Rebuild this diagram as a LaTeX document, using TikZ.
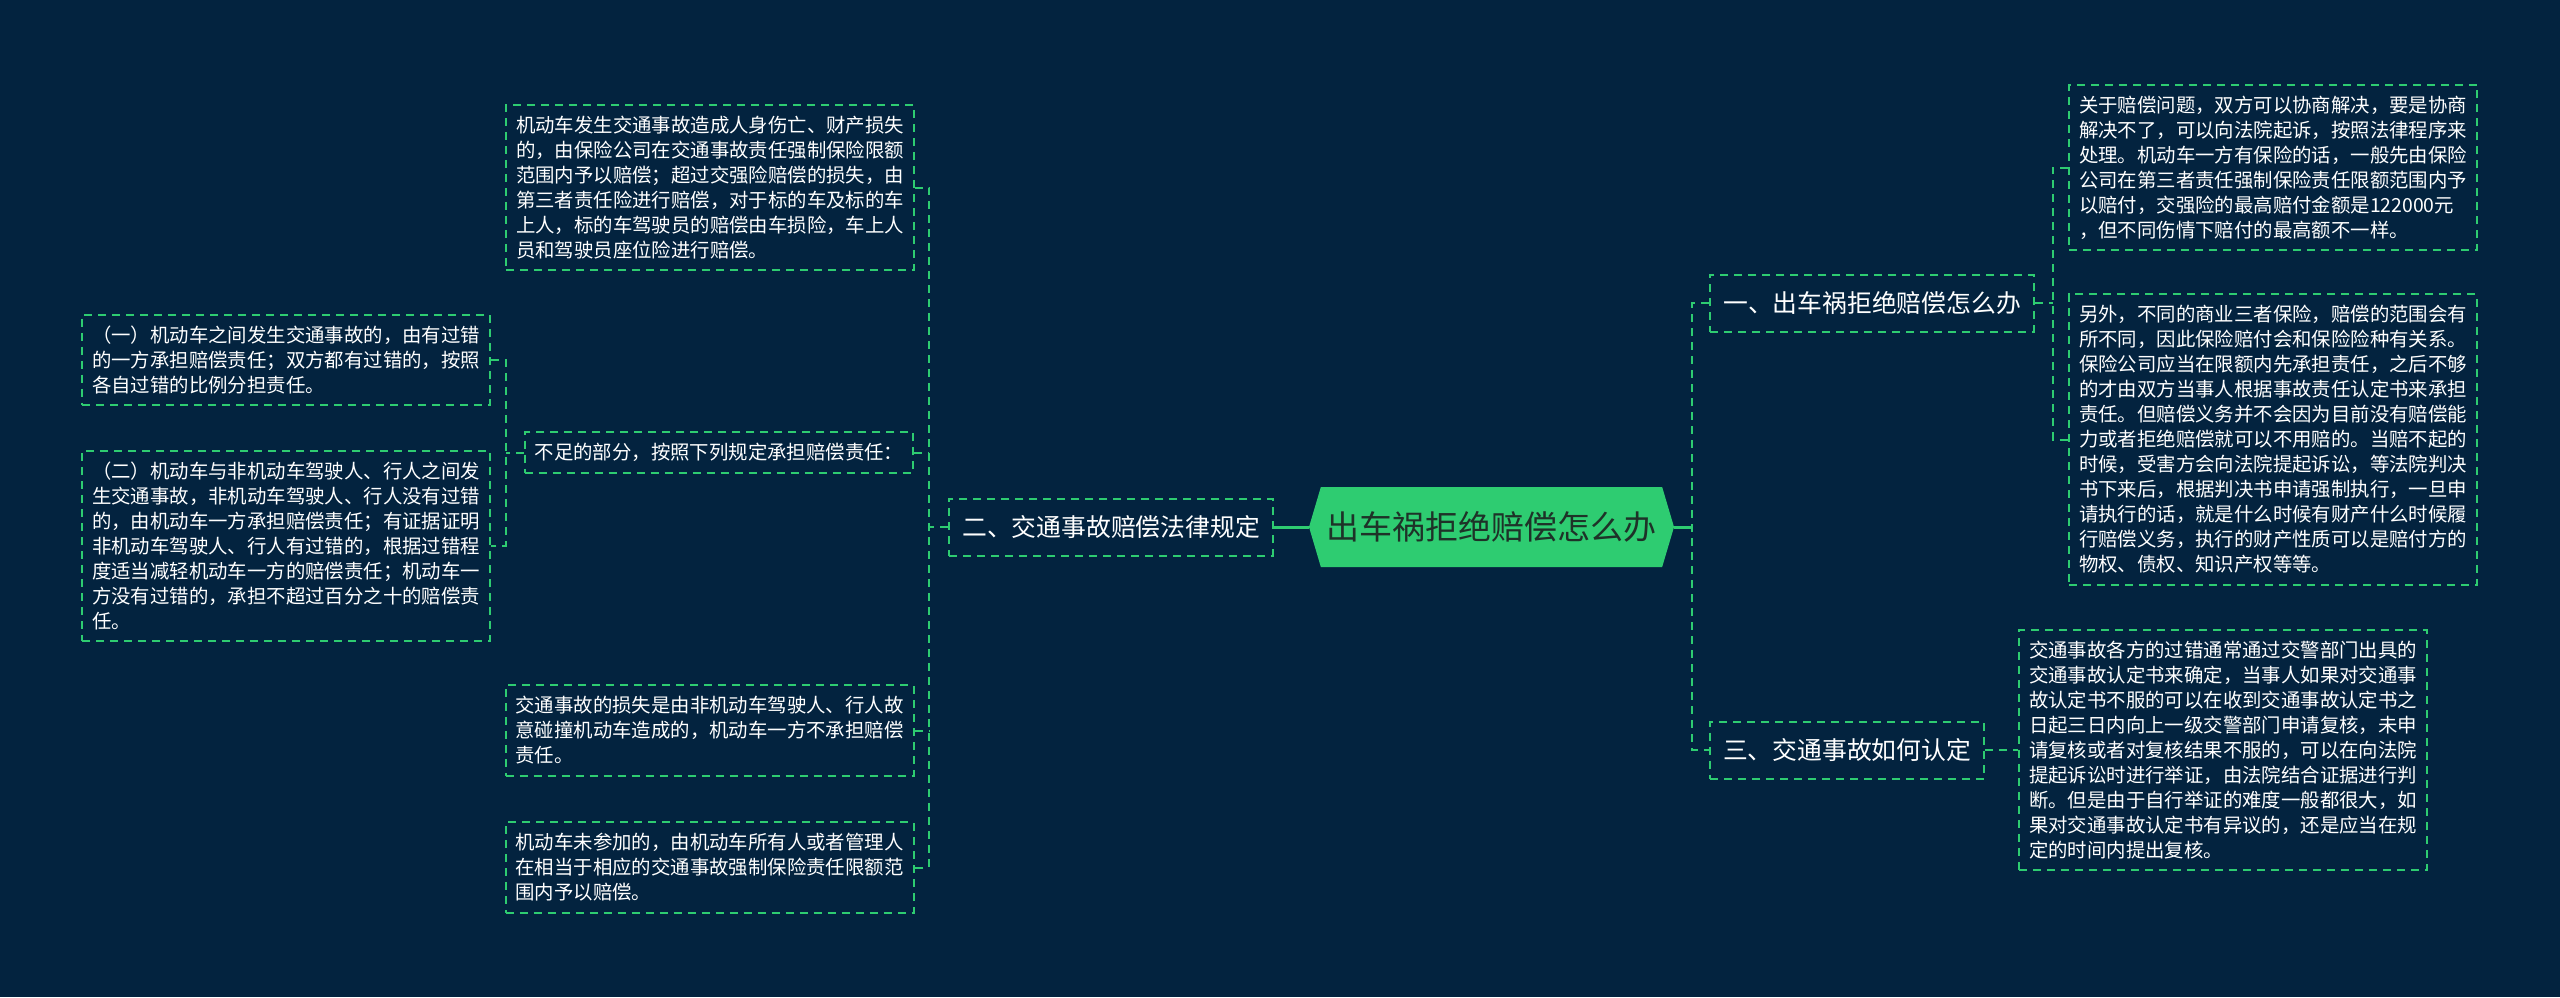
\documentclass[tikz,border=0pt]{standalone}
\usepackage{fontspec}
\setmainfont{Noto Sans CJK SC}
\usetikzlibrary{shapes.symbols}
\definecolor{bgnavy}{RGB}{3,35,63}
\definecolor{mapgreen}{RGB}{46,204,113}
\definecolor{roottext}{RGB}{30,50,40}

\begin{document}
\begin{tikzpicture}[x=1pt,y=-1pt,
  leaf/.style={draw=mapgreen, dash pattern=on 8pt off 6pt, line width=2pt, text=white, align=left, inner xsep=10pt, inner ysep=11pt, font=\fontsize{19.4pt}{25pt}\selectfont},
  branch/.style={draw=mapgreen, dash pattern=on 8pt off 6pt, line width=2pt, text=white, inner xsep=13pt, minimum height=57pt, font=\fontsize{24.8pt}{28pt}\selectfont},
  link/.style={mapgreen, dash pattern=on 8pt off 6pt, line width=2pt},
  stem/.style={mapgreen, line width=3pt}]
\fill[bgnavy] (0,0) rectangle (2560,997); % background
\useasboundingbox (0,0) rectangle (2560,997);

\node (root) [shape=signal, signal to=east and west, signal pointer angle=147, fill=mapgreen, minimum width=365pt, minimum height=80pt, inner xsep=0pt, text=roottext, font=\fontsize{33pt}{36pt}\selectfont] at (1491.5,527) {出车祸拒绝赔偿怎么办}; % root

\node (b1) [branch] at (1872,303) {一、出车祸拒绝赔偿怎么办};
\node (b2) [branch] at (1111,527) {二、交通事故赔偿法律规定};
\node (b3) [branch] at (1847,750) {三、交通事故如何认定};

% right side
\node (r1a) [leaf] at (2273,167.5) {关于赔偿问题，双方可以协商解决，要是协商\\解决不了，可以向法院起诉，按照法律程序来\\处理。机动车一方有保险的话，一般先由保险\\公司在第三者责任强制保险责任限额范围内予\\以赔付，交强险的最高赔付金额是122000元\\，但不同伤情下赔付的最高额不一样。};
\node (r1b) [leaf] at (2273,439.5) {另外，不同的商业三者保险，赔偿的范围会有\\所不同，因此保险赔付会和保险险种有关系。\\保险公司应当在限额内先承担责任，之后不够\\的才由双方当事人根据事故责任认定书来承担\\责任。但赔偿义务并不会因为目前没有赔偿能\\力或者拒绝赔偿就可以不用赔的。当赔不起的\\时候，受害方会向法院提起诉讼，等法院判决\\书下来后，根据判决书申请强制执行，一旦申\\请执行的话，就是什么时候有财产什么时候履\\行赔偿义务，执行的财产性质可以是赔付方的\\物权、债权、知识产权等等。};
\node (r3) [leaf] at (2223,750) {交通事故各方的过错通常通过交警部门出具的\\交通事故认定书来确定，当事人如果对交通事\\故认定书不服的可以在收到交通事故认定书之\\日起三日内向上一级交警部门申请复核，未申\\请复核或者对复核结果不服的，可以在向法院\\提起诉讼时进行举证，由法院结合证据进行判\\断。但是由于自行举证的难度一般都很大，如\\果对交通事故认定书有异议的，还是应当在规\\定的时间内提出复核。};

% left side
\node (l1) [leaf] at (710,187.5) {机动车发生交通事故造成人身伤亡、财产损失\\的，由保险公司在交通事故责任强制保险限额\\范围内予以赔偿；超过交强险赔偿的损失，由\\第三者责任险进行赔偿，对于标的车及标的车\\上人，标的车驾驶员的赔偿由车损险，车上人\\员和驾驶员座位险进行赔偿。};
\node (lgap) [leaf] at (719,452.5) {不足的部分，按照下列规定承担赔偿责任：};
\node (la) [leaf] at (286,360) {（一）机动车之间发生交通事故的，由有过错\\的一方承担赔偿责任；双方都有过错的，按照\\各自过错的比例分担责任。};
\node (lb) [leaf] at (286,546) {（二）机动车与非机动车驾驶人、行人之间发\\生交通事故，非机动车驾驶人、行人没有过错\\的，由机动车一方承担赔偿责任；有证据证明\\非机动车驾驶人、行人有过错的，根据过错程\\度适当减轻机动车一方的赔偿责任；机动车一\\方没有过错的，承担不超过百分之十的赔偿责\\任。};
\node (l3) [leaf] at (709.5,730.5) {交通事故的损失是由非机动车驾驶人、行人故\\意碰撞机动车造成的，机动车一方不承担赔偿\\责任。};
\node (l4) [leaf] at (709.5,867.5) {机动车未参加的，由机动车所有人或者管理人\\在相当于相应的交通事故强制保险责任限额范\\围内予以赔偿。};

% connectors
\draw[stem] (root.east) -- ++(18,0) coordinate (rj);
\draw[link] (b1.west) -| (rj) |- (b3.west);
\draw[link] (b1.east) -- ++(18,0) coordinate (aj);
\draw[link] (r1a.west) -| (aj) |- (r1b.west);
\draw[link] (b3.east) -- (r3.west);
\draw[stem] (root.west) -- (b2.east);
\draw[link] (b2.west) -- ++(-19,0) coordinate (lj);
\draw[link] (l1.east) -| (lj) |- (l4.east);
\draw[link] (lgap.east) -- (lgap.east -| lj);
\draw[link] (l3.east) -- (l3.east -| lj);
\draw[link] (lgap.west) -- ++(-18,0) coordinate (gj);
\draw[link] (la.east) -| (gj) |- (lb.east);
\end{tikzpicture}
\end{document}
